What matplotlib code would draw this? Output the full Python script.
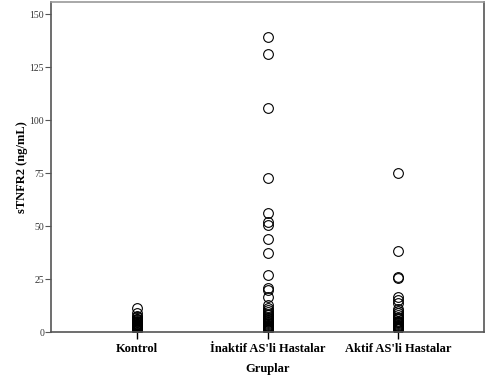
import matplotlib
matplotlib.use('Agg')
import matplotlib.pyplot as plt

groups = ['Kontrol', "İnaktif AS'li Hastalar", "Aktif AS'li Hastalar"]

kontrol = [11.2, 9.0, 7.6, 6.9, 6.3, 5.9, 5.5, 5.1, 4.8, 4.5, 4.2, 4.0,
           3.8, 3.6, 3.4, 3.2, 3.0, 2.8, 2.6, 2.4, 2.2, 2.0, 1.9, 1.7,
           1.5, 1.3, 1.1, 0.9]
inaktif = [139.2, 131.3, 105.8, 72.8, 56.3, 51.8, 50.5, 43.8, 37.5, 26.9,
           20.6, 19.8, 16.5, 12.7, 11.5, 10.4, 9.5, 8.6, 7.9, 7.2, 6.6,
           6.0, 5.5, 5.0, 4.6, 4.2, 3.8, 3.4, 3.0, 2.6, 2.3, 2.0, 1.7,
           1.4, 1.1, 0.9]
aktif = [75.1, 38.2, 26.1, 25.4, 15.1, 16.4, 13.9, 11.0, 10.0, 9.0, 8.0,
         7.2, 6.5, 5.9, 5.4, 4.9, 4.5, 4.1, 3.7, 3.3, 3.0, 2.7, 2.4,
         2.1, 1.8, 1.5, 1.2]

yticks = [0, 25, 50, 75, 100, 125, 150]

plt.rcParams['font.family'] = ['Liberation Serif', 'DejaVu Serif']

fig = plt.figure(figsize=(4.91, 3.85), dpi=100)
ax = fig.add_axes([51 / 491, 53 / 385, 433 / 491, 330 / 385])

for i, vals in enumerate([kontrol, inaktif, aktif]):
    ax.plot([i] * len(vals), vals, 'o', markersize=7, markerfacecolor='none',
            markeredgecolor='black', markeredgewidth=0.8, linestyle='none')

ax.set_xlim(-0.66, 2.66)
ax.set_ylim(0, 155.7)
ax.set_xticks(range(len(groups)))
ax.set_xticklabels(groups, fontsize=9, fontweight='bold')
ax.set_yticks(yticks)
ax.set_yticklabels([str(v) for v in yticks], fontsize=7, color='#333333')
ax.tick_params(axis='x', length=5, width=1, pad=3)
ax.tick_params(axis='y', length=4, width=0.8, color='#555555', pad=1)

for side in ['left', 'bottom', 'right']:
    ax.spines[side].set_color('#555555')
    ax.spines[side].set_linewidth(1.2)
ax.spines['top'].set_color('#999999')
ax.spines['top'].set_linewidth(1.2)

ax.set_xlabel('Gruplar', fontsize=9, fontweight='bold', labelpad=6)
ax.set_ylabel('sTNFR2 (ng/mL)', fontsize=9, fontweight='bold', va='center')
ax.yaxis.set_label_coords(-29 / 433, 0.5)

fig.savefig('out.png', dpi=100)
